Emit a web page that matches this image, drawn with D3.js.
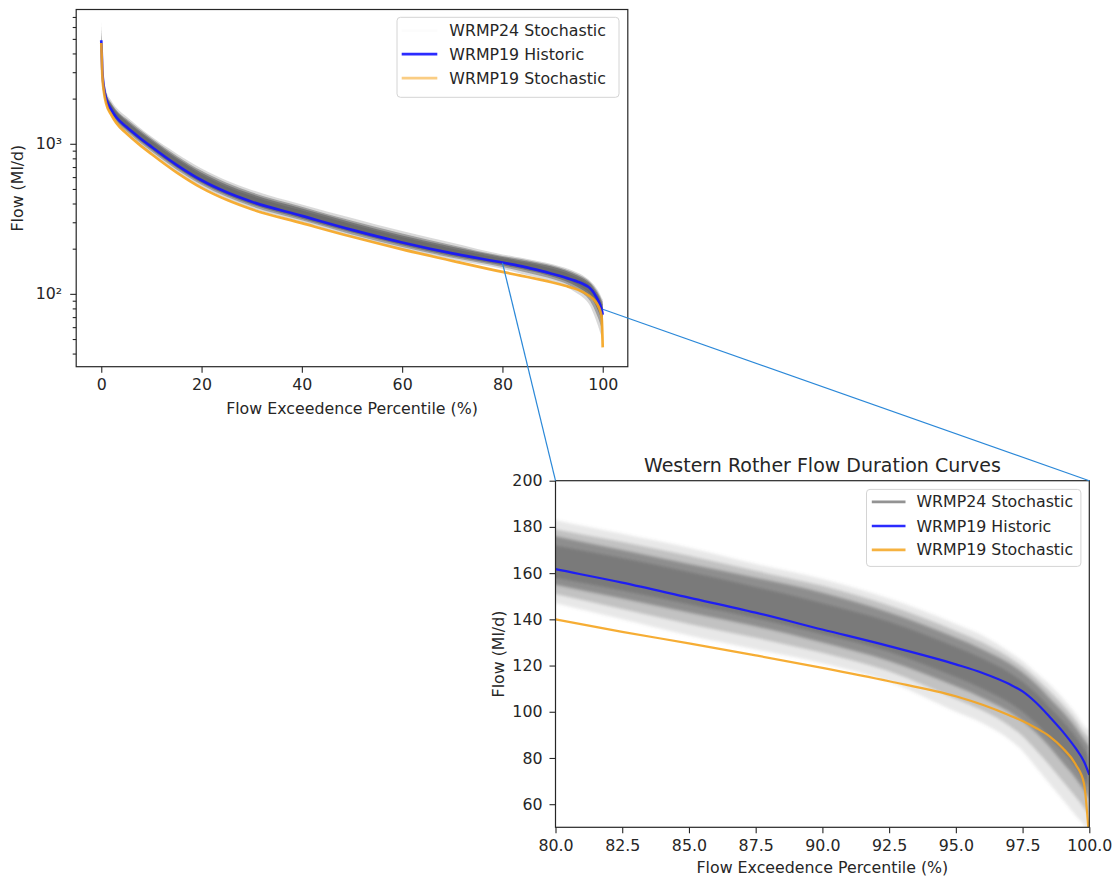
<!DOCTYPE html>
<html>
<head>
<meta charset="utf-8">
<script src="https://cdn.jsdelivr.net/npm/d3@7"></script>
<style>
  body { margin: 0; background: #fff; }
  text { font-family: "DejaVu Sans", sans-serif; fill: #262626; }
</style>
</head>
<body>
<svg id="chart" width="1116" height="877"></svg>
<script>
// Flow exceedence percentiles (%) at which every curve is tabulated
const percentiles = [0, 0.2, 0.5, 1, 2, 3, 5, 7.5, 10, 15, 20, 25, 30, 40, 50, 60, 70,
  80, 82.5, 85, 87.5, 90, 92.5, 95, 96, 97, 97.5, 98, 98.5, 99, 99.5, 99.8, 100];

// WRMP19 historic flow duration curve (Ml/d)
const historic = [4900, 3114, 2399, 1981, 1686, 1502, 1298, 1106, 955, 724, 571, 475, 411, 331, 267, 220, 186,
  161.7, 155.9, 149.4, 142.9, 135.6, 128.4, 120.5, 116.8, 112, 108.8, 104, 98, 91.5, 84, 78.5, 72.7];

// WRMP19 stochastic flow duration curve (Ml/d)
const stochastic19 = [4700, 2910, 2250, 1840, 1560, 1375, 1175, 995, 855, 645, 508, 423, 366, 296, 240, 198, 166,
  140, 134.6, 129.6, 124.4, 119, 113.2, 106.7, 103, 98.5, 96, 93, 89.5, 84.3, 77, 69, 44];

// WRMP24 stochastic ensemble, summarised as nested envelopes (outer -> core)
const ensMax = [6500, 3800, 2783, 2258, 1939, 1742, 1519, 1294, 1117, 862, 685, 570, 493, 394, 320, 262, 219,
  183, 177, 171, 164, 157.5, 149, 138, 133, 126, 122, 117, 112, 106, 99, 94, 92];
const ensHi2 = [6000, 3550, 2663, 2179, 1871, 1682, 1467, 1261, 1089, 833, 660, 549, 475, 381, 307, 252, 211,
  179, 173.5, 167.5, 161, 154.5, 146, 135, 130, 123.5, 119.5, 114.5, 109, 103, 96, 91, 88.5];
const ensHi3 = [5685, 3425, 2615, 2149, 1838, 1652, 1434, 1228, 1065, 811, 642, 534, 462, 371, 299, 245, 206,
  176, 170, 164, 158, 151.5, 143, 132, 127, 121, 117, 112, 106, 100, 93, 88, 85];
const ensHi4 = [5390, 3332, 2555, 2110, 1804, 1615, 1402, 1200, 1036, 789, 622, 518, 448, 359, 290, 238, 200,
  172, 166.5, 160.5, 154, 147, 139, 128, 123, 117, 113, 108, 102, 96, 89, 84, 80];
const ensLo4 = [4790, 3045, 2346, 1937, 1649, 1469, 1269, 1082, 934, 708, 558, 465, 402, 324, 261, 215, 182,
  158, 152.5, 146.5, 140.5, 133.5, 126, 115, 110, 104, 100, 95, 89, 83, 76, 71, 67];
const ensLo3 = [4600, 2983, 2298, 1898, 1615, 1439, 1243, 1060, 915, 694, 547, 455, 394, 317, 256, 211, 178,
  155, 149, 143, 137, 130, 122, 111, 106, 100, 96, 91, 85, 78, 71, 66, 62];
const ensLo2 = [4300, 2905, 2238, 1848, 1573, 1401, 1211, 1032, 891, 675, 533, 443, 383, 309, 249, 205, 174,
  151, 144.5, 138, 132, 125.5, 117.5, 105.5, 100.5, 94, 89.5, 83.5, 77, 70, 63, 58.5, 55];
const ensMin = [4000, 2828, 2178, 1799, 1531, 1364, 1179, 1004, 867, 657, 518, 431, 373, 301, 242, 200, 169,
  147, 140, 133, 127, 121, 113, 100, 95, 88, 83, 76, 69, 62, 55, 51, 48];

const seriesNames = ["WRMP24 Stochastic", "WRMP19 Historic", "WRMP19 Stochastic"];
const overviewXTicks = [0, 20, 40, 60, 80, 100];
const detailXTicks = [80, 82.5, 85, 87.5, 90, 92.5, 95, 97.5, 100];
const detailYTicks = [60, 80, 100, 120, 140, 160, 180, 200];
// points on the overview curve that the detail panel is tied back to
const detailAnchors = [[80, 161], [100, 79]];

const titleText = "Western Rother Flow Duration Curves";
const xLabel = "Flow Exceedence Percentile (%)";
const yLabel = "Flow (Ml/d)";

// ---- styling ----
const INK = "#262626";
const GREY = "#666666";
const BLUE = "#1414ff";
const ORANGE = "#f5a41e";
const FS = 15.8;
const bands = [[ensMin, ensMax], [ensLo2, ensHi2], [ensLo3, ensHi3], [ensLo4, ensHi4]];

const svg = d3.select("#chart");
svg.append("rect").attr("width", 1116).attr("height", 877).attr("fill", "#fff");
const defs = svg.append("defs");
[["soft-overview", 0.6], ["soft-detail", 1.8]].forEach(([id, sd]) => {
  defs.append("filter").attr("id", id)
    .attr("x", "-5%").attr("y", "-5%").attr("width", "110%").attr("height", "110%")
    .append("feGaussianBlur").attr("stdDeviation", sd);
});
const idx = d3.range(percentiles.length);

function drawCurves(g, x, y, lineWidth, softId, bandOpacity) {
  const bandGroup = g.append("g").attr("filter", `url(#${softId})`);
  bands.forEach(([lo, hi], k) => {
    bandGroup.append("path")
      .attr("d", d3.area()
        .x(i => x(percentiles[i]))
        .y0(i => y(lo[i]))
        .y1(i => y(hi[i]))
        .curve(d3.curveMonotoneX)(idx))
      .attr("fill", GREY)
      .attr("fill-opacity", bandOpacity[k]);
  });
  const line = vals => d3.line()
    .x(i => x(percentiles[i]))
    .y(i => y(vals[i]))
    .curve(d3.curveMonotoneX)(idx);
  g.append("path").attr("d", line(historic))
    .attr("fill", "none").attr("stroke", BLUE).attr("stroke-opacity", 0.9)
    .attr("stroke-width", lineWidth).attr("stroke-linejoin", "round");
  g.append("path").attr("d", line(stochastic19))
    .attr("fill", "none").attr("stroke", ORANGE).attr("stroke-opacity", 0.9)
    .attr("stroke-width", lineWidth).attr("stroke-linejoin", "round");
}

function frameAndClip(x, y, id) {
  const [xa, xb] = x.range();
  const [yb, ya] = y.range();
  defs.append("clipPath").attr("id", id).append("rect")
    .attr("x", xa).attr("y", ya).attr("width", xb - xa).attr("height", yb - ya);
  return { xa, xb, ya, yb };
}

function styleAxis(sel) {
  sel.select(".domain").remove();
  sel.selectAll(".tick line").attr("stroke", INK).attr("stroke-width", 1.1);
  sel.selectAll(".tick text").attr("font-size", FS).attr("fill", INK)
    .style("font-family", "'DejaVu Sans', sans-serif");
}

function drawLegend(x0, y0, w, h, rowY, handleX0, handleX1, textX, handleStyles) {
  const lg = svg.append("g");
  lg.append("rect").attr("x", x0).attr("y", y0).attr("width", w).attr("height", h)
    .attr("rx", 3.5).attr("fill", "#fff").attr("fill-opacity", 0.8)
    .attr("stroke", "#d4d4d4").attr("stroke-width", 1);
  seriesNames.forEach((name, i) => {
    const s = handleStyles[i];
    lg.append("line").attr("x1", handleX0).attr("x2", handleX1)
      .attr("y1", rowY[i]).attr("y2", rowY[i])
      .attr("stroke", s.color).attr("stroke-opacity", s.opacity).attr("stroke-width", s.width);
    lg.append("text").attr("x", textX).attr("y", rowY[i]).attr("dy", "0.36em")
      .attr("font-size", FS).text(name);
  });
}

// ================= overview panel (log scale, full range) =================
const xO = d3.scaleLinear().domain([-5, 105]).range([76.2, 627.8]);
const yO = d3.scaleLog().domain([32.7, 7850]).range([366.7, 9.5]);
const bO = frameAndClip(xO, yO, "clip-overview");
drawCurves(svg.append("g").attr("clip-path", "url(#clip-overview)"), xO, yO, 2.7, "soft-overview",
  [0.25, 0.5, 0.7, 0.65]);

const supDigits = { "0": "⁰", "1": "¹", "2": "²", "3": "³", "4": "⁴", "5": "⁵", "6": "⁶", "7": "⁷", "8": "⁸", "9": "⁹" };
const logTicks = yO.ticks();
const majorLog = logTicks.filter(v => Math.abs(Math.log10(v) - Math.round(Math.log10(v))) < 1e-9);
const minorLog = logTicks.filter(v => !majorLog.includes(v));

svg.append("g").attr("transform", `translate(0,${bO.yb})`)
  .call(d3.axisBottom(xO).tickValues(overviewXTicks).tickSize(6).tickPadding(6.5).tickFormat(d3.format("d")))
  .call(styleAxis);
svg.append("g").attr("transform", `translate(${bO.xa},0)`)
  .call(d3.axisLeft(yO).tickValues(majorLog).tickSize(6).tickPadding(8)
    .tickFormat(v => "10" + String(Math.round(Math.log10(v))).split("").map(c => supDigits[c]).join("")))
  .call(styleAxis);
svg.append("g").attr("transform", `translate(${bO.xa},0)`)
  .call(d3.axisLeft(yO).tickValues(minorLog).tickSize(3.5).tickFormat(() => ""))
  .call(styleAxis);

svg.append("rect").attr("x", bO.xa).attr("y", bO.ya).attr("width", bO.xb - bO.xa).attr("height", bO.yb - bO.ya)
  .attr("fill", "none").attr("stroke", INK).attr("stroke-width", 1.2);

svg.append("text").attr("x", (bO.xa + bO.xb) / 2).attr("y", 408).attr("dy", "0.36em")
  .attr("text-anchor", "middle").attr("font-size", FS).text(xLabel);
svg.append("text").attr("transform", `translate(17,${(bO.ya + bO.yb) / 2}) rotate(-90)`)
  .attr("dy", "0.36em").attr("text-anchor", "middle").attr("font-size", FS).text(yLabel);

drawLegend(397, 17.3, 222, 80, [30.7, 54.2, 78.2], 401.7, 437.3, 449.3, [
  { color: GREY, opacity: 0.02, width: 2.7 },
  { color: BLUE, opacity: 0.9, width: 2.7 },
  { color: ORANGE, opacity: 0.55, width: 2.7 }
]);

// ================= detail panel (80-100 %) =================
const xD = d3.scaleLinear().domain([80, 100]).range([555.5, 1089.3]);
const yD = d3.scaleLinear().domain([50, 200]).range([827.3, 480.7]);
const bD = frameAndClip(xD, yD, "clip-detail");
drawCurves(svg.append("g").attr("clip-path", "url(#clip-detail)"), xD, yD, 2.2, "soft-detail",
  [0.15, 0.3, 0.55, 0.5]);

svg.append("g").attr("transform", `translate(0,${bD.yb})`)
  .call(d3.axisBottom(xD).tickValues(detailXTicks).tickSize(6).tickPadding(6).tickFormat(d3.format(".1f")))
  .call(styleAxis);
svg.append("g").attr("transform", `translate(${bD.xa},0)`)
  .call(d3.axisLeft(yD).tickValues(detailYTicks).tickSize(6).tickPadding(7).tickFormat(d3.format("d")))
  .call(styleAxis);

svg.append("rect").attr("x", bD.xa).attr("y", bD.ya).attr("width", bD.xb - bD.xa).attr("height", bD.yb - bD.ya)
  .attr("fill", "none").attr("stroke", INK).attr("stroke-width", 1.2);

svg.append("text").attr("x", (bD.xa + bD.xb) / 2).attr("y", 465).attr("dy", "0.36em")
  .attr("text-anchor", "middle").attr("font-size", 19).text(titleText);
svg.append("text").attr("x", (bD.xa + bD.xb) / 2).attr("y", 867).attr("dy", "0.36em")
  .attr("text-anchor", "middle").attr("font-size", FS).text(xLabel);
svg.append("text").attr("transform", `translate(498,${(bD.ya + bD.yb) / 2}) rotate(-90)`)
  .attr("dy", "0.36em").attr("text-anchor", "middle").attr("font-size", FS).text(yLabel);

drawLegend(866.5, 489.4, 214.4, 77, [501.8, 526, 549.8], 871.8, 905.5, 916.5, [
  { color: "#808080", opacity: 0.85, width: 2.7 },
  { color: BLUE, opacity: 0.9, width: 2.7 },
  { color: ORANGE, opacity: 0.85, width: 2.7 }
]);

// ================= connectors between panels =================
const corners = [[bD.xa, bD.ya], [bD.xb, bD.ya]];
detailAnchors.forEach(([p, v], i) => {
  svg.append("line")
    .attr("x1", xO(p)).attr("y1", yO(v))
    .attr("x2", corners[i][0]).attr("y2", corners[i][1])
    .attr("stroke", "#2b88d8").attr("stroke-width", 1.2);
});
</script>
</body>
</html>
